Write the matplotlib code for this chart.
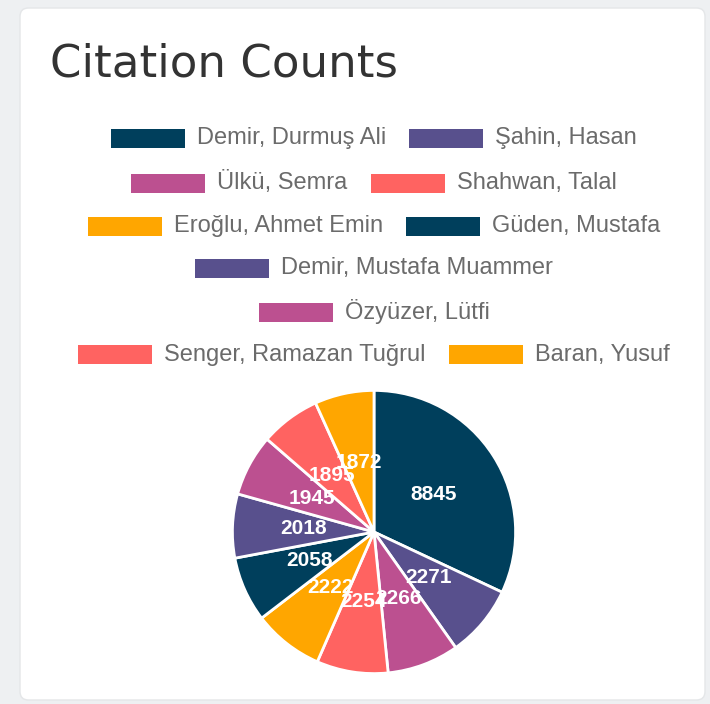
import matplotlib
matplotlib.use("Agg")
import matplotlib.pyplot as plt
from matplotlib.patches import FancyBboxPatch, Rectangle

authors = ["Demir, Durmuş Ali", "Şahin, Hasan", "Ülkü, Semra", "Shahwan, Talal",
           "Eroğlu, Ahmet Emin", "Güden, Mustafa", "Demir, Mustafa Muammer",
           "Özyüzer, Lütfi", "Senger, Ramazan Tuğrul", "Baran, Yusuf"]
citations = [8845, 2271, 2266, 2254, 2222, 2058, 2018, 1945, 1895, 1872]
palette = ["#003f5c", "#58508d", "#bc5090", "#ff6361", "#ffa600"]
colors = [palette[i % len(palette)] for i in range(len(authors))]
title = "Citation Counts"

W, H = 710, 704
fig = plt.figure(figsize=(W / 100, H / 100), dpi=100)
fig.patch.set_facecolor("#eef0f2")

def fx(px):
    return px / W

def fy(py):
    return 1 - py / H

# card
card = FancyBboxPatch((fx(20), fy(700)), fx(705) - fx(20), fy(8) - fy(700),
                      boxstyle="round,pad=0,rounding_size=0.012",
                      transform=fig.transFigure, facecolor="white",
                      edgecolor="#e4e6e8", linewidth=1, zorder=-5)
fig.patches.append(card)

fig.text(fx(50), fy(64), title, fontsize=32.5, color="#333333",
         family="DejaVu Sans", va="center", ha="left")

# legend, manual rows (Chart.js style wrapping)
rows_layout = [2, 2, 2, 1, 1, 2]
row_y = [138, 183, 226, 268, 312, 355]
box_w, box_h, gap_txt, gap_item = 74, 19, 12, 23
cx = 374
renderer = fig.canvas.get_renderer()
fs = 17
idx = 0
for n, ry in zip(rows_layout, row_y):
    items = list(range(idx, idx + n))
    idx += n
    widths = []
    for i in items:
        t = fig.text(0, 0, authors[i], fontsize=fs, family="Liberation Sans")
        bb = t.get_window_extent(renderer)
        t.remove()
        widths.append(bb.width)
    total = sum(box_w + gap_txt + w for w in widths) + gap_item * (n - 1)
    x = cx - total / 2
    for i, w in zip(items, widths):
        fig.patches.append(Rectangle((fx(x), fy(ry + box_h / 2)), fx(box_w), box_h / H,
                                     transform=fig.transFigure, facecolor=colors[i],
                                     edgecolor="none"))
        fig.text(fx(x + box_w + gap_txt), fy(ry), authors[i], fontsize=fs,
                 family="Liberation Sans", color="#6b6b6b", va="center", ha="left")
        x += box_w + gap_txt + w + gap_item

# pie
pcx, pcy, r = 374, 532, 143
ax = fig.add_axes([fx(pcx - r), fy(pcy + r), 2 * r / W, 2 * r / H])
wedges, texts = ax.pie(citations, colors=colors, startangle=90, counterclock=False,
                       labels=[str(v) for v in citations], labeldistance=0.5,
                       wedgeprops=dict(edgecolor="white", linewidth=2),
                       textprops=dict(color="white", fontsize=15, fontweight="bold",
                                      family="Liberation Sans"))
for t in texts:
    t.set_ha("center")
    t.set_va("center")
ax.set_xlim(-1.01, 1.01)
ax.set_ylim(-1.01, 1.01)
ax.set_aspect("equal")
ax.axis("off")

fig.savefig("out.png", dpi=100, facecolor=fig.get_facecolor())
